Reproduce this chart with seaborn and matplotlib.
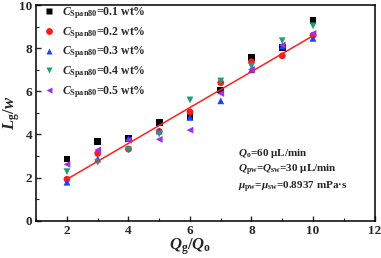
import numpy as np
import pandas as pd
import matplotlib
matplotlib.use("Agg")
import matplotlib.pyplot as plt
import seaborn as sns
from matplotlib.ticker import MultipleLocator

# ---- data ----
qg_qo = [2, 3, 4, 5, 6, 7, 8, 9, 10]
c01 = [2.86, 3.66, 3.82, 4.56, 4.85, 6.06, 7.57, 8.04, 9.27]
c02 = [1.92, 3.12, 3.32, 4.14, 5.05, 6.40, 7.37, 7.65, 8.60]
c03 = [1.78, 2.86, 3.80, 4.16, 4.79, 5.56, 7.00, 8.10, 8.46]
c04 = [2.27, 2.71, 3.28, 4.02, 5.60, 6.48, 7.17, 8.35, 9.04]
c05 = [2.61, 3.28, 3.74, 3.77, 4.20, 5.90, 7.02, 8.15, 8.69]
series_labels = [
    r"$\mathit{C}_{\mathbf{Span80}}$=0.1 wt%",
    r"$\mathit{C}_{\mathbf{Span80}}$=0.2 wt%",
    r"$\mathit{C}_{\mathbf{Span80}}$=0.3 wt%",
    r"$\mathit{C}_{\mathbf{Span80}}$=0.4 wt%",
    r"$\mathit{C}_{\mathbf{Span80}}$=0.5 wt%",
]
fit_slope = 0.8325
fit_intercept = 0.255
fit_x = [2, 10]

sns.set_theme(style="ticks")
plt.rcParams["font.family"] = ["Liberation Serif", "DejaVu Serif"]
plt.rcParams["font.weight"] = "bold"
plt.rcParams["mathtext.fontset"] = "custom"
plt.rcParams["mathtext.rm"] = "Liberation Serif:bold"
plt.rcParams["mathtext.it"] = "Liberation Serif:italic:bold"
plt.rcParams["mathtext.bf"] = "Liberation Serif:bold"

rows = []
for lab, vals in zip(series_labels, [c01, c02, c03, c04, c05]):
    for x, y in zip(qg_qo, vals):
        rows.append({"x": x, "y": y, "series": lab})
df = pd.DataFrame(rows)

colors = ["#000000", "#ff1a1a", "#1f3fff", "#1f9e7a", "#a030f0"]
markers = ["s", "o", "^", "v", "<"]

fig, ax = plt.subplots(figsize=(3.81, 2.58), dpi=100)
fig.subplots_adjust(left=0.095, right=0.983, top=0.98, bottom=0.145)

sns.scatterplot(data=df, x="x", y="y", hue="series", style="series",
                palette=dict(zip(series_labels, colors)),
                markers=dict(zip(series_labels, markers)),
                s=24, edgecolor="none", ax=ax, zorder=3)

fx = np.array(fit_x, dtype=float)
sns.lineplot(x=fx, y=fit_slope * fx + fit_intercept, color="#ff2020",
             lw=1.1, ax=ax, zorder=4, legend=False)

ax.set_xlim(1, 12)
ax.set_ylim(0, 10)
ax.xaxis.set_major_locator(MultipleLocator(2))
ax.xaxis.set_minor_locator(MultipleLocator(1))
ax.yaxis.set_major_locator(MultipleLocator(2))
ax.yaxis.set_minor_locator(MultipleLocator(1))
ax.tick_params(which="both", direction="in", top=False, right=False)
ax.tick_params(which="major", length=3.5, width=1, labelsize=9.5, pad=3)
ax.tick_params(which="minor", length=2, width=0.8)
for lbl in ax.get_xticklabels() + ax.get_yticklabels():
    lbl.set_fontweight("bold")
for sp in ax.spines.values():
    sp.set_linewidth(1.1)
    sp.set_color("black")

ax.set_xlabel(r"$\mathit{Q}_{\mathbf{g}}/\mathit{Q}_{\mathbf{o}}$", fontsize=12)
ax.set_ylabel(r"$\mathit{L}_{\mathbf{g}}/\mathit{w}$", fontsize=12)
ax.xaxis.label.set_va("top")
ax.yaxis.label.set_va("center")
ax.yaxis.label.set_ha("center")
ax.xaxis.set_label_coords(0.456, -0.072)
ax.yaxis.set_label_coords(-0.072, 0.5)

leg = ax.legend(loc="upper left", bbox_to_anchor=(0.0, 1.025), frameon=False,
                fontsize=8.5, handletextpad=0.5, handlelength=1.2,
                borderaxespad=0.05, labelspacing=0.35, title=None, markerscale=1.0)
for t in leg.get_texts():
    t.set_fontweight("bold")

ann = [r"$\mathit{Q}_{\mathbf{o}}$=60 μL/min",
       r"$\mathit{Q}_{\mathbf{pw}}$=$\mathit{Q}_{\mathbf{sw}}$=30 μL/min",
       r"$\mathit{μ}_{\mathbf{pw}}$=$\mathit{μ}_{\mathbf{sw}}$=0.8937 mPa·s"]
for i, t in enumerate(ann):
    ax.text(0.596, 0.312 - i * 0.078, t, transform=ax.transAxes, fontsize=8,
            fontweight="bold", va="center", ha="left")

fig.savefig("out.png", dpi=100)
